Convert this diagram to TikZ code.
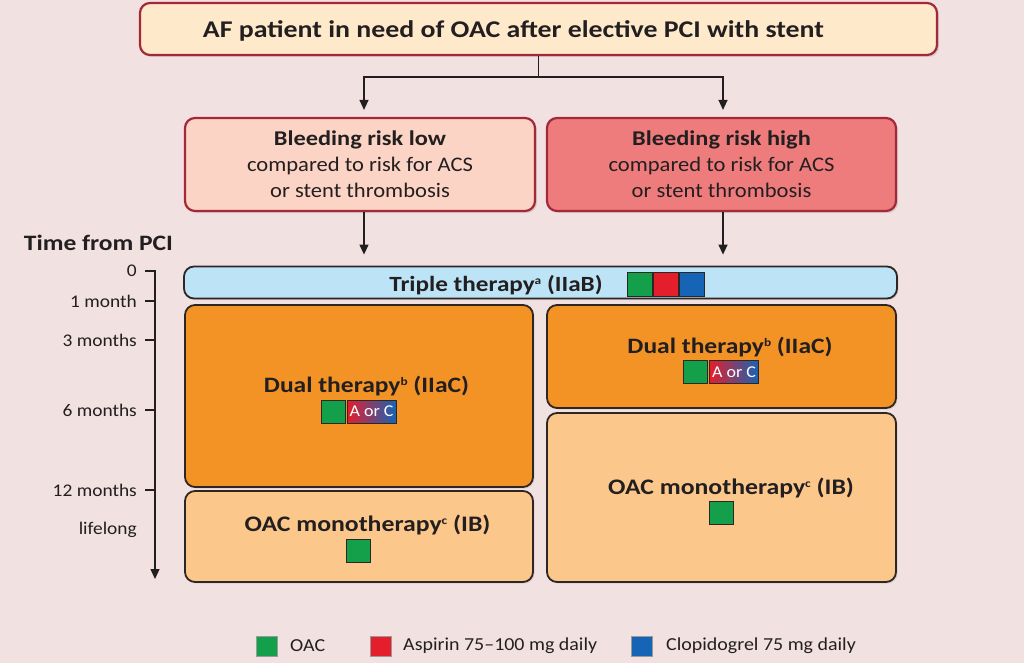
\documentclass[tikz,border=0pt]{standalone}
\usepackage{fontspec}
\setmainfont{Carlito}[FakeStretch=1.09, BoldFeatures={FakeStretch=1.16}]
\usetikzlibrary{arrows.meta,shadows,calc,positioning}
\definecolor{bg}{HTML}{F2E1E1}
\definecolor{topfill}{HTML}{FEEACB}
\definecolor{redborder}{HTML}{A3283A}
\definecolor{lowfill}{HTML}{FBD4C5}
\definecolor{highfill}{HTML}{EF7C7C}
\definecolor{triplefill}{HTML}{BDE4F6}
\definecolor{dualfill}{HTML}{F39325}
\definecolor{monofill}{HTML}{FBC78B}
\definecolor{boxborder}{HTML}{2E2622}
\definecolor{oac}{HTML}{14A04B}
\definecolor{asp}{HTML}{E41E2B}
\definecolor{clop}{HTML}{1664B5}
\definecolor{txt}{HTML}{231F20}
\newcommand{\mysup}[1]{\raisebox{6.5pt}{\fontsize{11.5}{12}\selectfont\bfseries #1}}
\tikzset{
  fs/.style 2 args={font=\fontsize{#1}{#2}\selectfont},
  decbox/.style={draw=redborder, line width=2.2pt, rounded corners=10pt, align=center, text=txt,
     drop shadow={shadow xshift=2pt, shadow yshift=-2pt, opacity=0.22}},
  therbox/.style={draw=boxborder, line width=1.8pt, rounded corners=10pt, align=center, text=txt,
     drop shadow={shadow xshift=1.5pt, shadow yshift=-1.5pt, opacity=0.18}},
  arr/.style={draw=txt, line width=1.3pt, -{Triangle[length=10pt,width=9pt]}},
  sq/.style={draw=boxborder, line width=1pt, minimum width=24pt, minimum height=23pt, inner sep=0pt},
  lsq/.style={draw=black!40, line width=0.5pt, minimum width=21pt, minimum height=20pt, inner sep=0pt},
  tlab/.style={anchor=east, fs={17.8}{20}, text=txt, inner sep=0pt},
  leg/.style={anchor=west, fs={18.3}{20}, text=txt, inner sep=0pt},
  ttl/.style={fs={22}{26}, text=txt, anchor=base, inner sep=0pt},
}
\begin{document}
\begin{tikzpicture}[x=1pt,y=-1pt]
\useasboundingbox (0,0) rectangle (1024,663);
\fill[bg] (0,0) rectangle (1024,663);

% decision boxes
\node[decbox, fill=topfill, minimum width=797pt, minimum height=52pt] (top) at (538.5,29) {};
\node[fs={24}{28}, text=txt, anchor=base, inner sep=0pt] (topT) at (513.5,38) {\textbf{AF patient in need of OAC after elective PCI with stent}};
\node[decbox, fill=lowfill, minimum width=350pt, minimum height=93pt, fs={20.7}{26}] (low) at (360,164.5)
  {{\fontsize{21}{26}\selectfont\textbf{Bleeding risk low}}\\compared to risk for ACS\\or stent thrombosis};
\node[decbox, fill=highfill, minimum width=349pt, minimum height=93pt, fs={20.7}{26}] (high) at (721.5,164.5)
  {{\fontsize{21}{26}\selectfont\textbf{Bleeding risk high}}\\compared to risk for ACS\\or stent thrombosis};

% connectors
\coordinate (j) at (538.5,77);
\draw[line width=1.3pt, draw=txt] (top.south) -- (j);
\draw[arr, shorten >=7pt] (j) -| ([xshift=4pt]low.north);
\draw[arr, shorten >=7pt] (j) -| ([xshift=1.5pt]high.north);

% therapy boxes
\node[therbox, fill=triplefill, minimum width=713pt, minimum height=32pt] (triple) at (540.5,282.5) {};
\node[therbox, fill=dualfill, minimum width=348pt, minimum height=182pt] (dualL) at (359,396) {};
\node[therbox, fill=monofill, minimum width=348pt, minimum height=91pt] (monoL) at (359,536.5) {};
\node[therbox, fill=dualfill, minimum width=349pt, minimum height=103pt] (dualR) at (721.5,356.5) {};
\node[therbox, fill=monofill, minimum width=349pt, minimum height=169pt] (monoR) at (721.5,497.5) {};

\draw[arr, shorten >=11pt] ([xshift=4pt]low.south) -- ([xshift=4pt]low.south |- triple.north);
\draw[arr, shorten >=11pt] ([xshift=1.5pt]high.south) -- ([xshift=1.5pt]high.south |- triple.north);

% therapy labels
\node[ttl, fs={21.7}{26}] (tripleT) at (496,291) {\textbf{Triple therapy\mysup{a} (IIaB)}};
\node[sq, minimum width=25pt, minimum height=24pt, fill=oac] (tg) at (639.5,284) {};
\node[sq, minimum width=25pt, minimum height=24pt, fill=asp, right=0pt of tg] (tr) {};
\node[sq, minimum width=25pt, minimum height=24pt, fill=clop, right=0pt of tr] (tb) {};

\node[ttl, fs={22}{26}] (dualLT) at (366.5,392) {\textbf{Dual therapy\mysup{b} (IIaC)}};
\node[sq, fill=oac] (dlg) at (333,411.5) {};
\node[sq, minimum width=49pt, right=1pt of dlg, left color=asp, right color=clop, text=white, fs={16.5}{18}] (dlac) {A or C};

\node[ttl, fs={22}{26}] (dualRT) at (730,353) {\textbf{Dual therapy\mysup{b} (IIaC)}};
\node[sq, fill=oac] (drg) at (695.5,372) {};
\node[sq, minimum width=49pt, right=1pt of drg, left color=asp, right color=clop, text=white, fs={16.5}{18}] (drac) {A or C};

\node[ttl, fs={22.2}{26}] (monoLT) at (367.5,531) {\textbf{OAC monotherapy\mysup{c} (IB)}};
\node[sq, fill=oac] (mlg) at (358.5,550.5) {};
\node[ttl, fs={22.2}{26}] (monoRT) at (731,494) {\textbf{OAC monotherapy\mysup{c} (IB)}};
\node[sq, fill=oac] (mrg) at (721,512.5) {};

% time axis
\node[fs={22}{26}, text=txt, inner sep=0pt] (timeT) at (98.5,243) {\textbf{Time from PCI}};
\coordinate (a0) at (155,271);
\coordinate (aEnd) at (155,579);
\draw[arr] (a0) -- (aEnd);
\foreach \y/\n/\l in {271/t0/0, 301/t1/1 month, 340/t3/3 months, 410/t6/6 months, 490/t12/12 months}{
  \draw[line width=1.3pt, draw=txt] (145,\y) -- (155.6,\y);
  \node[tlab] (\n) at (137,\y) {\l};
}
\node[tlab] (tl) at (137,530) {lifelong};

% legend
\node[lsq, fill=oac] (l1) at (266.5,646) {};
\node[leg] (l1t) at (290,646) {OAC};
\node[lsq, fill=asp] (l2) at (381,646) {};
\node[leg] (l2t) at (403,646) {Aspirin 75–100 mg daily};
\node[lsq, fill=clop] (l3) at (642,646) {};
\node[leg] (l3t) at (666,646) {Clopidogrel 75 mg daily};
\end{tikzpicture}
\end{document}
